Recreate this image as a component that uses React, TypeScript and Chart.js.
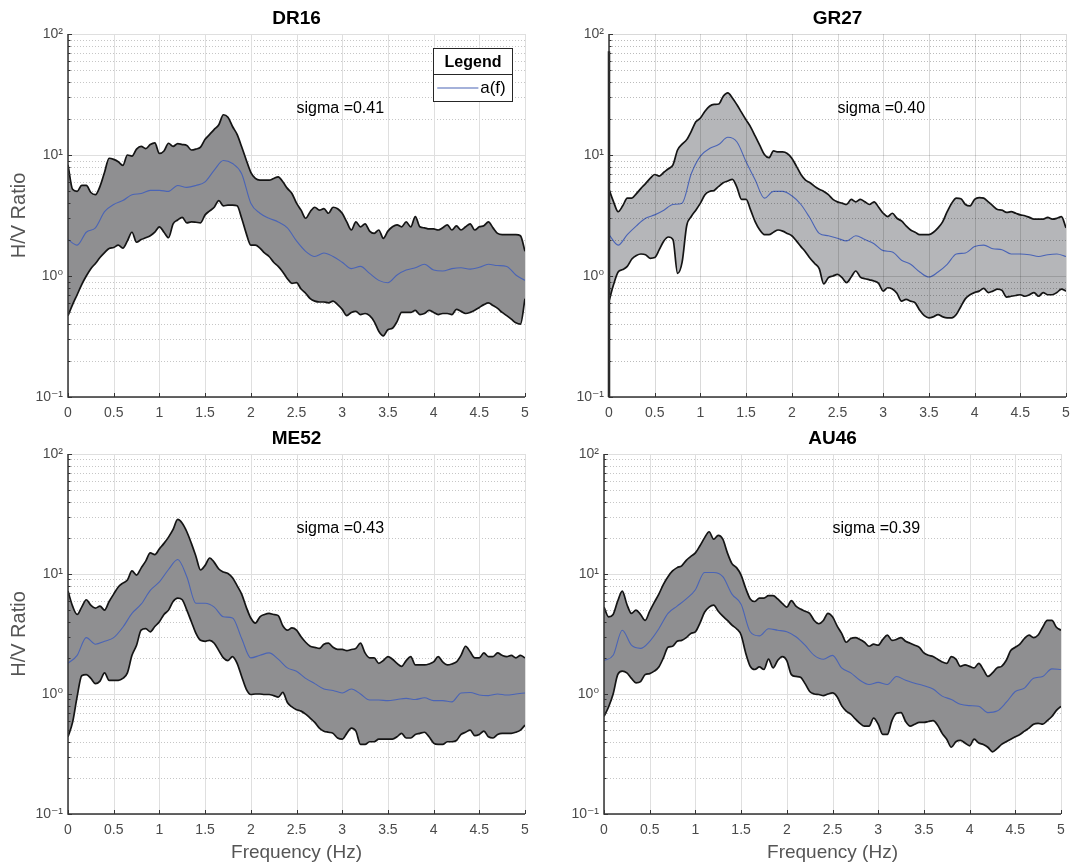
import React, { useEffect, useRef } from 'react';
import { Chart, registerables } from 'chart.js';

Chart.register(...registerables);

const FONT = "'Liberation Sans', Arial, 'DejaVu Sans', sans-serif";

// ---------- data ----------
const FREQ = [0,0.05,0.1,0.15,0.2,0.25,0.3,0.35,0.4,0.45,0.5,0.55,0.6,0.65,0.7,0.75,0.8,0.85,0.9,0.95,1,1.05,1.1,1.15,1.2,1.25,1.3,1.35,1.4,1.45,1.5,1.55,1.6,1.65,1.7,1.75,1.8,1.85,1.9,1.95,2,2.05,2.1,2.15,2.2,2.25,2.3,2.35,2.4,2.45,2.5,2.55,2.6,2.65,2.7,2.75,2.8,2.85,2.9,2.95,3,3.05,3.1,3.15,3.2,3.25,3.3,3.35,3.4,3.45,3.5,3.55,3.6,3.65,3.7,3.75,3.8,3.85,3.9,3.95,4,4.05,4.1,4.15,4.2,4.25,4.3,4.35,4.4,4.45,4.5,4.55,4.6,4.65,4.7,4.75,4.8,4.85,4.9,4.95,5];
const FREQ_MEAN = [0,0.1,0.2,0.3,0.4,0.5,0.6,0.7,0.8,0.9,1,1.1,1.2,1.3,1.4,1.5,1.6,1.7,1.8,1.9,2,2.1,2.2,2.3,2.4,2.5,2.6,2.7,2.8,2.9,3,3.1,3.2,3.3,3.4,3.5,3.6,3.7,3.8,3.9,4,4.1,4.2,4.3,4.4,4.5,4.6,4.7,4.8,4.9,5];

const X_TICKS = [0,0.5,1,1.5,2,2.5,3,3.5,4,4.5,5];
const X_TICK_LABELS = ['0','0.5','1','1.5','2','2.5','3','3.5','4','4.5','5'];
const Y_TICKS = [0.1,1,10,100];
const Y_TICK_LABELS = ['10\u207B\u00B9','10\u2070','10\u00B9','10\u00B2'];
const Y_MINOR = [2,3,4,5,6,7,8,9];

const TITLES = ['DR16','GR27','ME52','AU46'];
const SIGMA_TEXT = ['sigma =0.41','sigma =0.40','sigma =0.43','sigma =0.39'];
const LEGEND_TITLE = 'Legend';
const LEGEND_ENTRY = 'a(f)';
const X_TITLE = 'Frequency (Hz)';
const Y_TITLE = 'H/V Ratio';

const DR16_UPPER = [
  8.3,5.2,5.0,5.6,5.6,4.9,4.7,5.5,7.2,9.4,
  9.2,8.8,8.2,10.0,9.8,11.2,11.8,11.3,12.2,12.6,
  10.3,10.8,12.5,11.8,12.4,12.2,12.0,11.0,11.2,11.6,
  13.5,14.8,16.3,17.8,21.5,20.5,17.2,14.8,11.7,9.1,
  7.2,6.4,6.2,6.2,6.2,6.4,6.6,6.0,5.3,4.8,
  4.0,3.5,3.0,3.4,3.7,3.5,3.6,3.3,3.7,3.6,
  3.3,2.8,2.4,2.8,2.55,2.7,2.35,2.25,2.4,2.05,
  2.35,2.55,2.65,2.55,2.8,2.55,3.1,2.55,2.5,2.45,
  2.45,2.4,2.5,2.65,2.4,2.6,2.4,2.55,2.7,2.4,
  2.55,2.6,2.8,2.5,2.25,2.2,2.2,2.2,2.2,2.15,
  1.6];
const DR16_LOWER = [
  0.47,0.58,0.7,0.85,1.0,1.15,1.27,1.42,1.56,1.69,
  1.72,1.8,1.7,1.95,2.3,1.9,2.0,2.07,2.15,2.3,
  2.55,2.3,2.07,2.7,2.9,3.05,2.75,2.8,2.78,2.75,
  3.2,3.45,3.7,4.2,3.8,3.85,3.85,3.8,3.0,2.25,
  1.8,1.8,1.7,1.55,1.45,1.3,1.2,1.08,0.95,0.87,
  0.88,0.78,0.72,0.65,0.62,0.61,0.61,0.6,0.62,0.58,
  0.53,0.47,0.5,0.51,0.48,0.49,0.47,0.42,0.35,0.32,
  0.36,0.37,0.42,0.5,0.5,0.5,0.52,0.48,0.49,0.52,
  0.5,0.48,0.49,0.49,0.48,0.53,0.51,0.49,0.5,0.52,
  0.55,0.58,0.6,0.57,0.54,0.5,0.47,0.44,0.41,0.4,
  0.65];
const DR16_MEAN = [
  2.0,1.8,2.3,2.5,3.4,3.9,4.2,4.7,4.8,5.1,
  5.1,5.0,5.6,5.4,5.6,6.0,7.5,9.0,8.5,7.0,
  4.0,3.3,3.0,2.8,2.5,1.95,1.6,1.45,1.55,1.45,
  1.3,1.15,1.2,1.05,0.92,0.88,1.02,1.12,1.17,1.25,
  1.12,1.1,1.15,1.17,1.14,1.18,1.25,1.22,1.2,1.02,
  0.92];

const GR27_UPPER = [
  5.2,4.1,3.4,3.8,4.4,4.4,4.8,5.3,5.8,6.4,
  6.9,6.7,7.2,7.7,8.3,11.0,12.3,13.4,15.7,18.8,
  20.2,23,25.3,26.2,26.4,30.6,32.6,29.6,26,22.5,
  19.5,17,14.3,12,10.1,9.5,10.8,10.6,10.6,10.3,
  9.4,8.1,6.9,6.2,5.9,5.5,5.2,5.0,4.7,4.3,
  4.1,4.0,3.9,4.3,4.1,4.3,4.1,3.9,4.1,3.7,
  3.3,3.1,3.3,3.0,2.85,2.6,2.4,2.3,2.2,2.2,
  2.2,2.3,2.5,2.8,3.4,4.0,4.4,4.35,3.9,3.8,
  4.3,4.45,4.4,4.1,3.8,3.55,3.5,3.35,3.4,3.3,
  3.2,3.15,3.05,2.95,2.95,2.95,3.05,2.95,3.0,3.1,
  2.5];
const GR27_LOWER = [
  0.62,0.85,1.08,1.13,1.2,1.38,1.48,1.52,1.5,1.4,
  1.42,1.65,1.95,2.1,2.0,1.05,1.3,2.6,3.1,3.5,
  4.0,4.7,5.0,5.1,5.5,5.9,6.1,6.3,5.4,4.3,
  4.3,3.5,2.8,2.4,2.2,2.2,2.3,2.4,2.35,2.25,
  2.15,1.95,1.75,1.58,1.4,1.27,1.15,0.86,0.97,1.0,
  1.03,0.97,0.88,0.98,1.1,0.98,0.95,0.93,0.91,0.87,
  0.75,0.8,0.78,0.72,0.62,0.64,0.62,0.6,0.52,0.47,
  0.45,0.46,0.48,0.46,0.45,0.45,0.48,0.56,0.65,0.7,
  0.73,0.75,0.79,0.73,0.75,0.78,0.76,0.67,0.68,0.69,
  0.7,0.68,0.7,0.73,0.68,0.73,0.7,0.7,0.73,0.78,
  0.75];
const GR27_MEAN = [
  2.2,1.8,2.2,2.6,3.0,3.2,3.5,3.9,4.0,7.0,
  9.8,11.3,12.2,14.0,12.8,8.8,6.2,4.4,5.0,5.0,
  4.6,3.9,3.0,2.25,2.15,2.05,1.95,2.15,2.0,1.85,
  1.62,1.58,1.35,1.25,1.08,0.98,1.08,1.25,1.52,1.55,
  1.75,1.8,1.68,1.65,1.52,1.52,1.5,1.45,1.5,1.52,
  1.45];
const GR27_SPIKE = [0.1, 72];

const ME52_UPPER = [
  7.2,5.4,4.6,5.3,6.1,5.5,5.2,5.4,5.0,5.9,
  6.8,7.8,8.4,8.9,10.6,9.8,11.2,12.8,15.0,14.5,
  16.2,18,20.3,23.5,28.5,26.5,22.5,18,14,10.8,
  11.8,13.6,12.5,11,10.4,10.1,9.3,8.0,6.8,5.3,
  4.3,3.9,4.4,4.6,4.7,4.6,4.5,3.7,3.4,3.55,
  3.4,3.0,2.7,2.5,2.45,2.4,2.6,2.65,2.45,2.35,
  2.35,2.3,2.35,2.4,2.65,2.2,2.0,2.0,1.8,1.9,
  2.05,1.95,1.8,1.7,1.9,2.05,1.75,1.75,1.75,1.78,
  1.85,2.05,1.85,1.75,1.78,1.85,2.1,2.5,2.25,2.0,
  2.0,2.2,2.05,2.05,2.2,2.1,2.05,2.1,2.0,2.1,
  2.0];
const ME52_LOWER = [
  0.44,0.58,0.95,1.42,1.45,1.35,1.22,1.28,1.5,1.3,
  1.3,1.3,1.35,1.5,2.1,2.55,3.4,3.5,3.3,3.65,
  4.0,4.6,5.0,5.9,6.3,6.1,5.0,4.0,3.2,2.8,
  2.75,2.8,2.65,2.3,2.0,1.9,2.05,1.8,1.4,1.1,
  0.99,1.0,1.0,0.99,0.99,0.97,0.94,1.03,0.85,0.78,
  0.74,0.72,0.68,0.63,0.58,0.52,0.49,0.48,0.47,0.43,
  0.42,0.47,0.52,0.49,0.38,0.38,0.4,0.4,0.42,0.42,
  0.42,0.42,0.44,0.47,0.43,0.43,0.46,0.47,0.48,0.44,
  0.39,0.38,0.38,0.4,0.4,0.41,0.46,0.48,0.5,0.45,
  0.46,0.49,0.44,0.43,0.46,0.47,0.47,0.47,0.48,0.5,
  0.55];
const ME52_MEAN = [
  1.8,2.1,2.95,2.6,2.75,2.95,3.6,4.7,5.6,7.3,
  8.6,10.9,13.2,9.5,5.7,5.7,5.3,4.4,4.3,2.9,
  2.0,2.1,2.2,1.95,1.65,1.55,1.35,1.22,1.1,1.07,
  1.02,1.1,1.0,0.89,0.89,0.88,0.9,0.92,0.9,0.93,
  0.88,0.88,0.86,1.02,1.03,0.98,0.97,1.0,0.98,1.0,
  1.02];

const AU46_UPPER = [
  5.3,4.4,4.6,5.95,7.2,5.6,4.7,5.0,4.6,4.1,
  4.9,5.8,6.8,8.2,9.5,10.6,11.3,11.7,13.0,14.0,
  15.0,17.2,20.0,22.5,19.5,21.0,19.5,15.0,12.2,11.3,
  9.8,7.6,6.2,5.9,6.3,6.3,6.6,6.6,6.2,5.7,
  5.3,6.0,5.4,5.1,4.9,4.7,4.1,3.85,4.1,4.7,
  4.4,3.7,3.2,2.7,2.9,2.95,2.85,2.7,2.5,2.6,
  2.55,2.85,3.1,2.8,2.85,2.95,2.75,2.65,2.55,2.45,
  2.2,2.1,2.05,1.95,1.85,1.8,2.05,1.95,1.7,1.75,
  1.7,1.65,1.8,1.6,1.4,1.5,1.65,1.7,1.9,2.3,
  2.45,2.6,2.9,3.1,2.95,3.1,3.6,4.1,4.1,3.6,
  3.4];
const AU46_LOWER = [
  0.65,0.78,1.0,1.45,1.55,1.5,1.35,1.24,1.27,1.45,
  1.48,1.55,1.68,2.0,2.45,2.5,2.75,2.8,2.95,3.2,
  3.3,3.9,4.8,5.3,5.5,4.9,4.45,4.1,3.75,3.5,
  3.1,2.2,1.7,1.6,1.68,1.6,1.95,1.65,1.9,2.05,
  1.9,1.45,1.4,1.38,1.22,1.05,1.0,0.99,0.97,1.0,
  1.02,0.95,0.8,0.72,0.68,0.62,0.57,0.54,0.54,0.63,
  0.56,0.46,0.46,0.6,0.69,0.7,0.59,0.54,0.56,0.58,
  0.58,0.59,0.6,0.55,0.47,0.42,0.36,0.4,0.41,0.39,
  0.37,0.42,0.39,0.38,0.36,0.33,0.35,0.38,0.4,0.42,
  0.44,0.46,0.49,0.52,0.56,0.57,0.56,0.6,0.65,0.73,
  0.79];
const AU46_MEAN = [
  1.9,2.1,3.4,2.55,2.4,2.75,3.5,4.7,5.4,6.2,
  7.4,10.3,10.3,9.5,6.8,5.6,3.3,3.05,3.5,3.4,
  3.3,3.0,2.55,2.1,1.95,2.1,1.65,1.5,1.3,1.2,
  1.25,1.2,1.4,1.3,1.23,1.17,1.1,0.96,0.9,0.82,
  0.8,0.79,0.7,0.72,0.85,1.05,1.12,1.35,1.4,1.62,
  1.6];

// ---------- layout / style ----------
const Y_AXIS_W = 68;
const PAD_TOP = 34;
const SIGMA_POS = { x: 2.5, y: 24 };
const LEGEND_POS = { x0: 3.99, x1: 4.86, yTop: 76.5, yDiv: 46.5, yBot: 28, lineX0: 4.04, lineX1: 4.49, textX: 4.51, rowY: 35.8 };

const TICK_COLOR = '#4a4a4a';
const LABEL_COLOR = '#555555';
const AXIS_COLOR = '#333333';
const BOUND_COLOR = '#141414';
const MEAN_COLOR = '#4a64b6';
const FILL_DARK = '#8f8f91';
const FILL_LIGHT = '#b5b6b9';

type PanelDef = {
  title: string; sigma: string;
  upper: number[]; lower: number[]; mean: number[]; spike?: number[];
  left: number; top: number; plotW: number; plotH: number; xH: number; padR: number;
  yTitle: boolean; xTitle: boolean; legend: boolean; light: boolean;
};

const PANELS: PanelDef[] = [
  { title: TITLES[0], sigma: SIGMA_TEXT[0], upper: DR16_UPPER, lower: DR16_LOWER, mean: DR16_MEAN,
    left: 0, top: 0, plotW: 457, plotH: 363, xH: 24, padR: 12, yTitle: true, xTitle: false, legend: true, light: false },
  { title: TITLES[1], sigma: SIGMA_TEXT[1], upper: GR27_UPPER, lower: GR27_LOWER, mean: GR27_MEAN, spike: GR27_SPIKE,
    left: 541, top: 0, plotW: 457, plotH: 363, xH: 24, padR: 5, yTitle: false, xTitle: false, legend: false, light: true },
  { title: TITLES[2], sigma: SIGMA_TEXT[2], upper: ME52_UPPER, lower: ME52_LOWER, mean: ME52_MEAN,
    left: 0, top: 420, plotW: 457, plotH: 360, xH: 52, padR: 12, yTitle: true, xTitle: true, legend: false, light: false },
  { title: TITLES[3], sigma: SIGMA_TEXT[3], upper: AU46_UPPER, lower: AU46_LOWER, mean: AU46_MEAN,
    left: 536, top: 420, plotW: 457, plotH: 360, xH: 52, padR: 8, yTitle: false, xTitle: true, legend: false, light: false },
];

function drawGrid(chart: any, onTop: boolean) {
  const { ctx, chartArea: a, scales } = chart;
  const xs = scales.x, ys = scales.y;
  ctx.save();
  ctx.lineWidth = 1;
  ctx.setLineDash([1, 2]);
  ctx.strokeStyle = onTop ? 'rgba(30,30,30,0.30)' : '#c6c6c6';
  ctx.beginPath();
  for (let i = 0; i < Y_TICKS.length - 1; i++) {
    for (const m of Y_MINOR) {
      const py = Math.round(ys.getPixelForValue(Y_TICKS[i] * m)) + 0.5;
      ctx.moveTo(a.left, py);
      ctx.lineTo(a.right, py);
    }
  }
  ctx.stroke();
  ctx.setLineDash([]);
  ctx.strokeStyle = onTop ? 'rgba(30,30,30,0.17)' : '#dfdfdf';
  ctx.beginPath();
  for (const v of X_TICKS) {
    const px = Math.round(xs.getPixelForValue(v)) + 0.5;
    ctx.moveTo(px, a.top);
    ctx.lineTo(px, a.bottom);
  }
  for (const v of Y_TICKS) {
    const py = Math.round(ys.getPixelForValue(v)) + 0.5;
    ctx.moveTo(a.left, py);
    ctx.lineTo(a.right, py);
  }
  ctx.stroke();
  ctx.restore();
}

function drawAxes(chart: any) {
  const { ctx, chartArea: a, scales } = chart;
  const xs = scales.x, ys = scales.y;
  ctx.save();
  ctx.strokeStyle = AXIS_COLOR;
  ctx.lineWidth = 1.5;
  ctx.beginPath();
  ctx.moveTo(a.left, a.top);
  ctx.lineTo(a.left, a.bottom);
  ctx.lineTo(a.right, a.bottom);
  ctx.stroke();
  ctx.lineWidth = 1;
  ctx.beginPath();
  for (const v of X_TICKS) {
    const px = Math.round(xs.getPixelForValue(v)) + 0.5;
    ctx.moveTo(px, a.bottom);
    ctx.lineTo(px, a.bottom - 4);
  }
  for (const v of Y_TICKS) {
    const py = Math.round(ys.getPixelForValue(v)) + 0.5;
    ctx.moveTo(a.left, py);
    ctx.lineTo(a.left + 4, py);
  }
  for (let i = 0; i < Y_TICKS.length - 1; i++) {
    for (const m of Y_MINOR) {
      const py = Math.round(ys.getPixelForValue(Y_TICKS[i] * m)) + 0.5;
      ctx.moveTo(a.left, py);
      ctx.lineTo(a.left + 2.5, py);
    }
  }
  ctx.stroke();
  ctx.restore();
}

function drawLegend(chart: any) {
  const { ctx, scales } = chart;
  const xs = scales.x, ys = scales.y;
  const L = LEGEND_POS;
  const x0 = Math.round(xs.getPixelForValue(L.x0)) + 0.5;
  const x1 = Math.round(xs.getPixelForValue(L.x1)) + 0.5;
  const yT = Math.round(ys.getPixelForValue(L.yTop)) + 0.5;
  const yD = Math.round(ys.getPixelForValue(L.yDiv)) + 0.5;
  const yB = Math.round(ys.getPixelForValue(L.yBot)) + 0.5;
  ctx.save();
  ctx.fillStyle = '#ffffff';
  ctx.fillRect(x0, yT, x1 - x0, yB - yT);
  ctx.strokeStyle = '#262626';
  ctx.lineWidth = 1;
  ctx.strokeRect(x0, yT, x1 - x0, yB - yT);
  ctx.beginPath();
  ctx.moveTo(x0, yD);
  ctx.lineTo(x1, yD);
  ctx.stroke();
  ctx.fillStyle = '#000000';
  ctx.font = `bold 16px ${FONT}`;
  ctx.textAlign = 'center';
  ctx.textBaseline = 'middle';
  ctx.fillText(LEGEND_TITLE, (x0 + x1) / 2, (yT + yD) / 2 + 1);
  const ry = ys.getPixelForValue(L.rowY);
  ctx.strokeStyle = MEAN_COLOR;
  ctx.lineWidth = 1.2;
  ctx.beginPath();
  ctx.moveTo(xs.getPixelForValue(L.lineX0), ry);
  ctx.lineTo(xs.getPixelForValue(L.lineX1), ry);
  ctx.stroke();
  ctx.font = `17px ${FONT}`;
  ctx.textAlign = 'left';
  ctx.fillText(LEGEND_ENTRY, xs.getPixelForValue(L.textX), ry);
  ctx.restore();
}

const decorPlugin = {
  id: 'panelDecor',
  beforeDatasetsDraw(chart: any, _args: any, opts: any) {
    if (!opts.light) drawGrid(chart, false);
  },
  afterDatasetsDraw(chart: any, _args: any, opts: any) {
    if (opts.light) drawGrid(chart, true);
    drawAxes(chart);
    const { ctx, scales } = chart;
    ctx.save();
    ctx.font = `16px ${FONT}`;
    ctx.fillStyle = '#000000';
    ctx.textAlign = 'left';
    ctx.textBaseline = 'middle';
    ctx.fillText(opts.sigma, scales.x.getPixelForValue(SIGMA_POS.x), scales.y.getPixelForValue(SIGMA_POS.y));
    ctx.restore();
    if (opts.legend) drawLegend(chart);
  },
  afterDraw(chart: any, _args: any, opts: any) {
    const { ctx, chartArea: a } = chart;
    ctx.save();
    ctx.font = `bold 19px ${FONT}`;
    ctx.fillStyle = '#000000';
    ctx.textAlign = 'center';
    ctx.textBaseline = 'middle';
    ctx.fillText(opts.title, (a.left + a.right) / 2, a.top - 15);
    ctx.restore();
  },
};

function Panel({ p }: { p: PanelDef }) {
  const ref = useRef<HTMLCanvasElement>(null);
  const width = Y_AXIS_W + p.plotW + p.padR;
  const height = PAD_TOP + p.plotH + p.xH;

  useEffect(() => {
    const canvas = ref.current;
    if (!canvas) return;
    const datasets: any[] = [];
    if (p.spike) {
      datasets.push({
        data: p.spike.map((v) => ({ x: FREQ[0], y: v })),
        borderColor: BOUND_COLOR, borderWidth: 2.5, pointRadius: 0, fill: false, clip: false,
      });
    }
    datasets.push({
      data: FREQ_MEAN.map((f, i) => ({ x: f, y: p.mean[i] })),
      borderColor: MEAN_COLOR, borderWidth: 1.1, pointRadius: 0, fill: false,
      cubicInterpolationMode: 'monotone',
    });
    const lowerIdx = datasets.length;
    datasets.push({
      data: FREQ.map((f, i) => ({ x: f, y: p.lower[i] })),
      borderColor: BOUND_COLOR, borderWidth: 1.7, pointRadius: 0, fill: false,
      cubicInterpolationMode: 'monotone',
    });
    datasets.push({
      data: FREQ.map((f, i) => ({ x: f, y: p.upper[i] })),
      borderColor: BOUND_COLOR, borderWidth: 1.7, pointRadius: 0,
      fill: lowerIdx, backgroundColor: p.light ? FILL_LIGHT : FILL_DARK,
      cubicInterpolationMode: 'monotone',
    });

    const chart = new Chart(canvas, {
      type: 'line',
      data: { datasets },
      plugins: [decorPlugin],
      options: {
        responsive: false,
        animation: false,
        devicePixelRatio: 1,
        events: [],
        layout: { padding: { left: 0, top: PAD_TOP, right: p.padR, bottom: 0 } },
        plugins: {
          legend: { display: false },
          title: { display: false },
          tooltip: { enabled: false },
          panelDecor: { title: p.title, sigma: p.sigma, legend: p.legend, light: p.light },
        } as any,
        scales: {
          x: {
            type: 'linear', min: 0, max: 5,
            grid: { display: false, drawTicks: false },
            border: { display: false },
            afterBuildTicks: (s: any) => { s.ticks = X_TICKS.map((v) => ({ value: v })); },
            afterFit: (s: any) => { s.height = p.xH; s.paddingLeft = 0; s.paddingRight = 0; },
            ticks: {
              autoSkip: false, maxRotation: 0, minRotation: 0, padding: 8,
              color: TICK_COLOR, font: { family: FONT, size: 14 },
              callback: (_v: any, i: number) => X_TICK_LABELS[i],
            },
            title: {
              display: p.xTitle, text: X_TITLE, color: LABEL_COLOR,
              font: { family: FONT, size: 19 }, padding: { top: 0, bottom: 2 },
            },
          },
          y: {
            type: 'logarithmic', min: 0.1, max: 100,
            grid: { display: false, drawTicks: false },
            border: { display: false },
            afterBuildTicks: (s: any) => { s.ticks = Y_TICKS.map((v) => ({ value: v })); },
            afterFit: (s: any) => { s.width = Y_AXIS_W; s.paddingTop = 0; s.paddingBottom = 0; },
            ticks: {
              autoSkip: false, padding: 5,
              color: TICK_COLOR, font: { family: FONT, size: 14 },
              callback: (_v: any, i: number) => Y_TICK_LABELS[i],
            },
            title: {
              display: p.yTitle, text: Y_TITLE, color: LABEL_COLOR,
              font: { family: FONT, size: 20 }, padding: { top: 7, bottom: 0 },
            },
          },
        },
      } as any,
    });
    return () => chart.destroy();
  }, []);

  return (
    <canvas
      ref={ref}
      width={width}
      height={height}
      style={{ position: 'absolute', left: p.left, top: p.top, width, height }}
    />
  );
}

export default function App() {
  return (
    <div style={{ position: 'absolute', left: 0, top: 0, width: 1072, height: 866, overflow: 'hidden', background: '#ffffff' }}>
      {PANELS.map((p) => (
        <Panel key={p.title} p={p} />
      ))}
    </div>
  );
}
